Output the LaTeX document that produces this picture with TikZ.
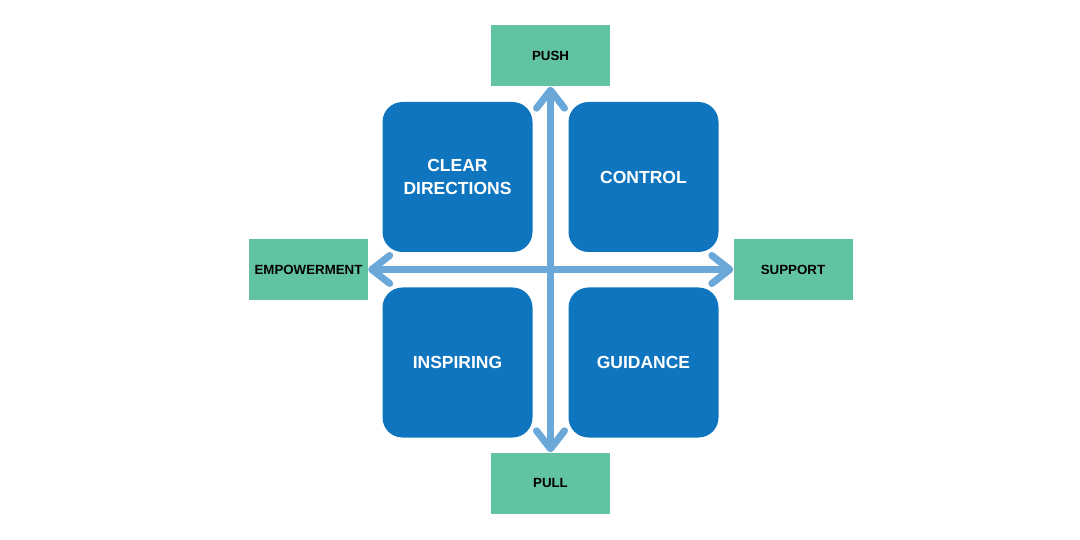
\documentclass[tikz,border=0pt]{standalone}
\usepackage{fontspec}
\setmainfont{Liberation Sans}
\usepackage{tikz}
\usetikzlibrary{arrows.meta,positioning}

\definecolor{quadblue}{HTML}{1075BF}
\definecolor{axisblue}{HTML}{6AA8DA}
\definecolor{tagreen}{HTML}{62C3A0}

\begin{document}
\begin{tikzpicture}
	[x=1pt,y=1pt,
		quad node/.style={rectangle,rounded corners=20pt,fill=quadblue,minimum size=150pt,
			text=white,font=\fontsize{17.5}{23}\selectfont\bfseries,align=center,inner sep=0pt},
		tag node/.style={rectangle,fill=tagreen,minimum width=119pt,minimum height=61pt,
			text=black,font=\fontsize{13.3}{15}\selectfont\bfseries,inner sep=0pt},
		barb/.tip={Straight Barb[round,length=18pt,width=28pt,line width=7pt]},
		axis/.style={draw=axisblue,line width=7pt,line cap=round,barb-barb}]

	\useasboundingbox (0,0) rectangle (1080,-540);

	% the four quadrants
	\node[quad node] (CD) at (457.5,-177) {CLEAR\\DIRECTIONS};
	\node[quad node] (CO) at (643.5,-177) {CONTROL};
	\node[quad node] (IN) at (457.5,-362.5) {INSPIRING};
	\node[quad node] (GU) at (643.5,-362.5) {GUIDANCE};

	% axis ends
	\node[tag node] (PUSH) at (550.5,-56)    {PUSH};
	\node[tag node] (PULL) at (550.5,-483)   {PULL};
	\node[tag node] (EMP)  at (308.5,-269.5) {EMPOWERMENT};
	\node[tag node] (SUP)  at (793,-269.5)   {SUPPORT};

	\draw[axis] (PUSH.south) -- (PULL.north);
	\draw[axis] (EMP.east) -- (SUP.west);

\end{tikzpicture}
\end{document}
